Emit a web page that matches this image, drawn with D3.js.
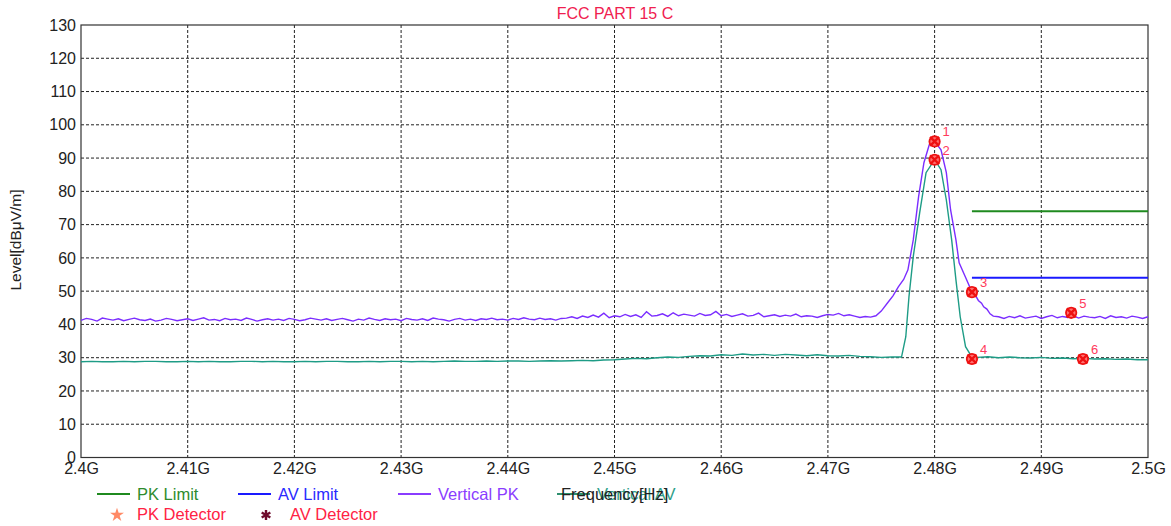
<!DOCTYPE html>
<meta charset="utf-8">
<style>
body { margin: 0; background: #fff; }
svg { font-family: "Liberation Sans", Arial, sans-serif; }
.axis text { font-size: 16px; fill: #222; }
.axis path, .axis line { display: none; }
.grid line { stroke: #222; stroke-dasharray: 3,2; stroke-width: 1; }
.legend text { font-size: 16.5px; }
</style>
<svg width="1171" height="526"></svg>
<script src="https://d3js.org/d3.v7.min.js"></script>
<script>

// ---- data ----
var xTicks = [2.40, 2.41, 2.42, 2.43, 2.44, 2.45, 2.46, 2.47, 2.48, 2.49, 2.50];
var yTicks = [0, 10, 20, 30, 40, 50, 60, 70, 80, 90, 100, 110, 120, 130];

// Vertical PK, sweep from 2.4000 GHz in 0.0005 GHz steps (up to 2.4740)
var pkStart = 2.4, pkStep = 0.0005;
var pkBase = [
  41.2,41.8,41.5,41.0,41.9,41.6,41.3,41.7,41.1,41.5,
  41.9,41.4,41.2,41.6,41.0,41.3,41.8,41.5,41.1,41.4,
  41.7,41.2,41.6,42.0,41.3,41.5,41.1,41.8,41.4,41.6,
  41.2,41.9,41.5,41.0,41.4,41.7,41.3,41.6,41.2,41.8,
  41.5,41.1,41.4,41.9,41.6,41.3,41.7,41.2,41.5,41.8,
  41.4,41.0,41.6,41.3,41.9,41.5,41.2,41.7,41.4,41.6,
  41.1,41.8,41.5,41.3,41.7,41.2,41.9,41.6,41.4,41.0,
  41.5,41.8,41.3,41.6,41.2,41.7,41.5,41.9,41.4,41.6,
  41.3,41.8,41.5,42.0,41.6,41.4,41.9,41.5,41.7,41.3,
  41.8,
  41.9,42.3,41.8,42.5,42.1,42.8,42.2,43.4,42.0,42.6,
  42.3,43.0,42.4,42.9,42.1,43.8,42.5,42.7,43.2,42.4,
  43.5,42.6,43.1,42.8,42.5,43.3,42.7,42.9,43.9,42.6,
  43.0,42.4,42.8,43.2,42.5,42.7,43.4,42.3,42.6,42.9,
  42.4,42.8,42.5,43.1,42.3,42.6,
  42.5,42.1,42.6,43.0,42.8,43.3,42.6,42.9,42.5,42.1,42.4,42.2
];
var pkPeak = [
  [2.4745, 42.6], [2.4750, 44.0], [2.4756, 46.5], [2.4761, 48.6], [2.4766, 51.3],
  [2.4771, 53.5], [2.4775, 56.4], [2.4780, 65.4], [2.4785, 78.4], [2.4790, 88.6],
  [2.4795, 94.0], [2.4800, 95.0], [2.4806, 92.5], [2.4811, 85.6], [2.4815, 74.4],
  [2.4820, 65.4], [2.4823, 58.5], [2.4830, 53.4], [2.4835, 49.7], [2.4838, 48.9],
  [2.4841, 47.2], [2.4844, 46.4], [2.4846, 45.3], [2.4849, 44.6], [2.4852, 43.2],
  [2.4855, 42.5]
];
var pkTailStart = 2.4860;
var pkTail = [
  42.3,41.8,42.4,42.0,42.6,41.9,42.2,42.5,41.8,42.3,
  42.7,42.0,42.4,42.1,42.6,41.9,42.5,42.2,42.0,42.4,
  41.8,42.6,42.1,42.3,41.9,42.5,42.2,41.8,42.3
];

// Vertical AV, sweep from 2.400 GHz in 0.001 GHz steps (up to 2.476)
var avStart = 2.4, avStep = 0.001;
var avBase = [
  28.8,28.9,28.8,28.8,28.9,28.8,28.9,28.9,28.8,28.8,
  28.9,28.8,28.9,28.8,28.8,28.9,28.9,28.8,28.9,28.8,
  28.8,28.9,28.8,28.9,28.9,28.8,28.8,28.9,28.8,28.9,
  28.9,28.8,28.9,28.8,28.9,29.0,28.9,28.9,29.0,28.9,
  29.0,29.0,28.9,29.0,29.1,29.0,29.1,29.2,29.1,29.3,
  29.4,29.6,29.8,29.7,30.0,30.2,30.1,30.4,30.6,30.5,
  30.9,30.7,31.1,30.8,31.0,30.7,31.0,30.8,30.6,30.9,
  30.6,30.5,30.7,30.4,30.3,30.1,30.2
];
var avPeak = [
  [2.4769, 30.2], [2.4773, 36.3], [2.4776, 48.4], [2.4780, 60.4], [2.4786, 73.5],
  [2.4792, 85.6], [2.4800, 89.5], [2.4806, 86.5], [2.4811, 77.4], [2.4816, 65.4],
  [2.4820, 53.4], [2.4824, 42.3], [2.4829, 33.3], [2.4835, 30.2]
];
var avTailStart = 2.4840;
var avTail = [30.1,30.3,30.0,30.2,30.0,29.9,30.1,29.8,29.9,29.7,29.8,29.6,29.7,29.5,29.6,29.4,29.4];

var pkLimit = [[2.4835, 74], [2.5, 74]];
var avLimit = [[2.4835, 54], [2.5, 54]];

var markers = [
  {id: 1, f: 2.4800, v: 95.0},
  {id: 2, f: 2.4800, v: 89.5},
  {id: 3, f: 2.4835, v: 49.7},
  {id: 4, f: 2.4835, v: 29.6},
  {id: 5, f: 2.4928, v: 43.5},
  {id: 6, f: 2.4939, v: 29.6}
];

// ---- build series ----
var vpk = pkBase.map((v, i) => [pkStart + i * pkStep, v])
  .concat(pkPeak)
  .concat(pkTail.map((v, i) => [pkTailStart + i * pkStep, v]));
var vav = avBase.map((v, i) => [avStart + i * avStep, v])
  .concat(avPeak)
  .concat(avTail.map((v, i) => [avTailStart + i * avStep, v]));

var svg = d3.select("svg");
var plotLeft = 81, plotRight = 1148, plotTop = 25, plotBottom = 457.5;

var x = d3.scaleLinear().domain([2.4, 2.5]).range([plotLeft, plotRight]);
var y = d3.scaleLinear().domain([0, 130]).range([plotBottom, plotTop]);

// grid
var grid = svg.append("g").attr("class", "grid");
grid.selectAll(".gx").data(xTicks.slice(1, -1)).join("line")
    .attr("x1", d => x(d)).attr("x2", d => x(d))
    .attr("y1", plotTop).attr("y2", plotBottom);
grid.selectAll(".gy").data(yTicks.slice(1, -1)).join("line")
    .attr("x1", plotLeft).attr("x2", plotRight)
    .attr("y1", d => y(d)).attr("y2", d => y(d));

// axes
svg.append("g").attr("class", "axis")
    .attr("transform", `translate(0,${plotBottom})`)
    .call(d3.axisBottom(x).tickValues(xTicks).tickSize(0).tickPadding(5)
      .tickFormat(d => d3.format(".2~f")(d) + "G"));
svg.append("g").attr("class", "axis")
    .attr("transform", `translate(${plotLeft},0)`)
    .call(d3.axisLeft(y).tickValues(yTicks).tickSize(0).tickPadding(5));

svg.append("rect")
    .attr("x", plotLeft).attr("y", plotTop)
    .attr("width", plotRight - plotLeft).attr("height", plotBottom - plotTop)
    .attr("fill", "none").attr("stroke", "#333").attr("stroke-width", 1.2);

// title & y label
svg.append("text")
    .attr("x", 615).attr("y", 19)
    .attr("text-anchor", "middle")
    .attr("fill", "#f0204f").attr("font-size", 16)
    .text("FCC PART 15 C");

svg.append("text")
    .attr("transform", "translate(21,240) rotate(-90)")
    .attr("text-anchor", "middle")
    .attr("fill", "#222").attr("font-size", 15.5)
    .text("Level[dBμV/m]");

// lines
var line = d3.line().x(d => x(d[0])).y(d => y(d[1]));

svg.append("path").datum(vav)
    .attr("fill", "none").attr("stroke", "#1e9c86").attr("stroke-width", 1.4)
    .attr("d", line);
svg.append("path").datum(vpk)
    .attr("fill", "none").attr("stroke", "#7b2dff").attr("stroke-width", 1.4)
    .attr("d", line);
svg.append("path").datum(pkLimit)
    .attr("fill", "none").attr("stroke", "#1f8a1f").attr("stroke-width", 2)
    .attr("d", line);
svg.append("path").datum(avLimit)
    .attr("fill", "none").attr("stroke", "#1a1aff").attr("stroke-width", 2)
    .attr("d", line);

// markers
var mk = svg.selectAll(".mk").data(markers).join("g")
    .attr("class", "mk")
    .attr("transform", d => `translate(${x(d.f)},${y(d.v)})`);
mk.append("circle").attr("r", 5.2)
    .attr("fill", "#ff7070").attr("stroke", "#ee1111").attr("stroke-width", 1.8);
mk.append("path")
    .attr("d", "M-4.5,-4.5L4.5,4.5M-4.5,4.5L4.5,-4.5")
    .attr("stroke", "#ee1111").attr("stroke-width", 2.4);
mk.append("text")
    .attr("x", 8).attr("y", -5)
    .attr("fill", "#ff3a5c").attr("font-size", 13)
    .text(d => d.id);

// legend
var legend = svg.append("g").attr("class", "legend");
var lineItems = [
  {name: "PK Limit", color: "#1f8a1f", text: "#2e8b2e", x: 97},
  {name: "AV Limit", color: "#1a1aff", text: "#2a2aff", x: 238},
  {name: "Vertical PK", color: "#8a3cff", text: "#8a3cff", x: 398},
  {name: "Vertical AV", color: "#2e8f6e", text: "#2ea08a", x: 557}
];
lineItems.forEach(function (d) {
  legend.append("line")
      .attr("x1", d.x).attr("x2", d.x + 33)
      .attr("y1", 494).attr("y2", 494)
      .attr("stroke", d.color).attr("stroke-width", 2);
  legend.append("text")
      .attr("x", d.x + 40).attr("y", 500)
      .attr("fill", d.text)
      .text(d.name);
});
legend.append("text")
    .attr("x", 561).attr("y", 500)
    .attr("fill", "#222")
    .text("Frequency[Hz]");

legend.append("path")
    .attr("transform", "translate(117,515)")
    .attr("d", d3.symbol(d3.symbolStar, 60)())
    .attr("fill", "#ff8a66");
legend.append("text").attr("x", 137).attr("y", 520)
    .attr("fill", "#ff2244").text("PK Detector");
legend.append("path")
    .attr("transform", "translate(266,515)")
    .attr("d", d3.symbol(d3.symbolAsterisk, 70)())
    .attr("fill", "none").attr("stroke", "#6e0b2c").attr("stroke-width", 2.4);
legend.append("text").attr("x", 290).attr("y", 520)
    .attr("fill", "#ff2244").text("AV Detector");

</script>
